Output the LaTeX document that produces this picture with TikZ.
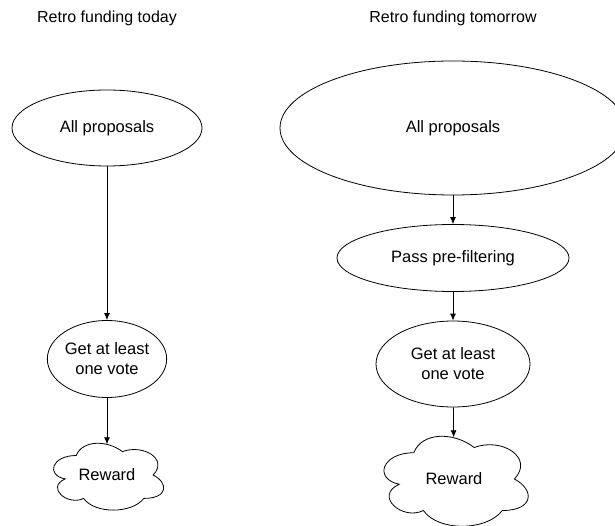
\documentclass[tikz,border=0pt]{standalone}
\usepackage{fontspec}
\setmainfont{Liberation Sans}
\usetikzlibrary{shapes.geometric, arrows.meta}

\tikzset{
  caption/.style={font=\fontsize{16}{19}\selectfont},
  stage/.style={draw, ellipse, line width=0.8pt, inner sep=0pt, align=center,
    font=\fontsize{16.5}{20}\selectfont},
  payout/.style={inner sep=0pt, font=\fontsize{16.5}{20}\selectfont},
  flow/.style={->, line width=0.8pt}
}

% cloud outline around a node: name, width, height
\newcommand{\puffcloud}[3]{%
  \begin{scope}[shift={(#1.center)}, x=#2, y=-#3]
    \draw [line width=0.8pt] (-0.25,-0.25)
      .. controls (-0.45,-0.25) and (-0.5,0) .. (-0.34,0.05)
      .. controls (-0.5,0.16) and (-0.32,0.4) .. (-0.19,0.3)
      .. controls (-0.1,0.5) and (0.2,0.5) .. (0.3,0.3)
      .. controls (0.5,0.3) and (0.5,0.1) .. (0.375,0)
      .. controls (0.5,-0.2) and (0.3,-0.4) .. (0.125,-0.3)
      .. controls (0,-0.45) and (-0.2,-0.45) .. (-0.25,-0.25) -- cycle;
  \end{scope}}

\begin{document}
\begin{tikzpicture}[>={Latex[length=7pt,width=6pt]}, x=1pt, y=-1pt]
  \useasboundingbox (0,0) rectangle (615,526);

  % today
  \node (today) at (107,18) [caption] {Retro funding today};
  \node (allA) at (107,128) [stage, minimum width=190pt, minimum height=76pt] {All proposals};
  \node (voteA) at (107,359) [stage, minimum width=116pt, minimum height=77pt] {Get at least\\one vote};
  \node (rewardA) at (107,475) [payout, minimum width=98pt, minimum height=61pt] {Reward};
  \puffcloud{rewardA}{123pt}{78pt}
  \draw [flow] (allA) -- (voteA);
  \draw [flow] (voteA) -- (rewardA);

  % tomorrow
  \node (tomorrow) at (453,18) [caption] {Retro funding tomorrow};
  \node (allB) at (453,128) [stage, minimum width=346pt, minimum height=134pt] {All proposals};
  \node (filterB) at (453,258) [stage, minimum width=232pt, minimum height=67pt] {Pass pre-filtering};
  \node (voteB) at (453,364) [stage, minimum width=154pt, minimum height=86pt] {Get at least\\one vote};
  \node (rewardB) at (454,479) [payout, minimum width=128pt, minimum height=83pt] {Reward};
  \puffcloud{rewardB}{161pt}{105pt}
  \draw [flow] (allB) -- (filterB);
  \draw [flow] (filterB) -- (voteB);
  \draw [flow] (voteB) -- (rewardB);
\end{tikzpicture}
\end{document}
